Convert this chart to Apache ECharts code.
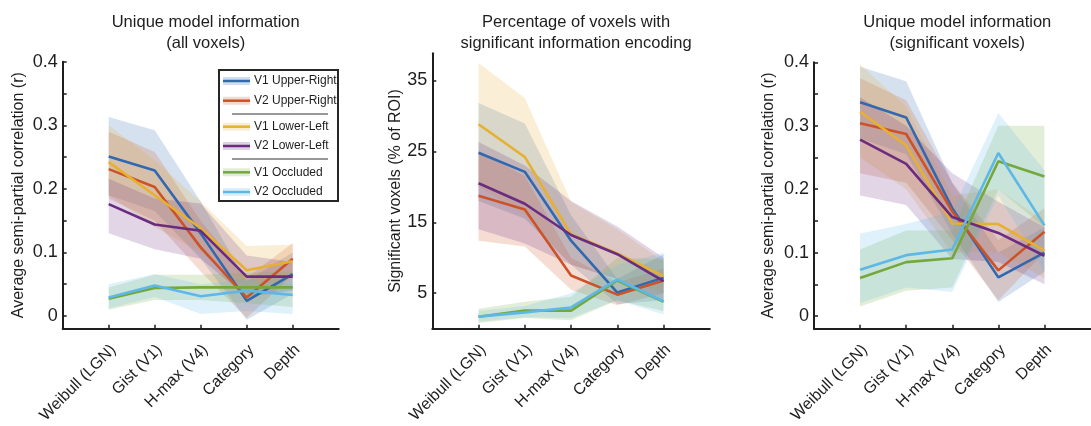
<!DOCTYPE html>
<html>
<head>
<meta charset="utf-8">
<script src="https://cdn.jsdelivr.net/npm/echarts@6/dist/echarts.min.js"></script>
<style>
  html, body { margin: 0; padding: 0; background: #fff; }
  #chart { width: 1091px; height: 426px; }
</style>
</head>
<body>
<div id="chart"></div>
<script>
// Model feature spaces along the x axis
const models = ['Weibull (LGN)', 'Gist (V1)', 'H-max (V4)', 'Category', 'Depth'];
// ROI / visual-field conditions (one line + shaded band each)
const conditions = ['V1 Upper-Right', 'V2 Upper-Right', 'V1 Lower-Left', 'V2 Lower-Left', 'V1 Occluded', 'V2 Occluded'];
const colors = ['#3268b0', '#cc5327', '#e6b030', '#6b2c80', '#75a83a', '#5db8e6'];

// Panel 1: unique model information, all voxels (semi-partial r)
const allMean = [
  [0.251, 0.229, 0.130, 0.024, 0.066],
  [0.231, 0.203, 0.108, 0.029, 0.090],
  [0.242, 0.190, 0.138, 0.072, 0.086],
  [0.176, 0.144, 0.134, 0.062, 0.062],
  [0.027, 0.044, 0.045, 0.045, 0.045],
  [0.029, 0.048, 0.031, 0.040, 0.033]
];
const allLower = [
  [0.190, 0.165, 0.090, -0.006, 0.035],
  [0.185, 0.150, 0.070, -0.003, 0.065],
  [0.190, 0.140, 0.100, 0.040, 0.060],
  [0.130, 0.105, 0.090, 0.030, 0.040],
  [0.010, 0.025, 0.025, 0.020, 0.014],
  [0.012, 0.030, 0.003, 0.008, 0.003]
];
const allUpper = [
  [0.313, 0.292, 0.180, 0.055, 0.100],
  [0.290, 0.258, 0.150, 0.060, 0.115],
  [0.300, 0.245, 0.180, 0.110, 0.112],
  [0.216, 0.185, 0.177, 0.095, 0.085],
  [0.045, 0.065, 0.065, 0.068, 0.070],
  [0.050, 0.066, 0.050, 0.058, 0.050]
];

// Panel 2: percentage of voxels with significant encoding (% of ROI)
const pctMean = [
  [24.8, 22.1, 12.4, 5.1, 7.2],
  [18.75, 16.8, 7.5, 4.8, 6.8],
  [28.8, 24.2, 13.3, 10.6, 7.4],
  [20.5, 17.6, 13.2, 10.5, 6.7],
  [1.7, 2.55, 2.55, 6.8, 3.8],
  [1.7, 2.3, 3.0, 6.95, 3.85]
];
const pctLower = [
  [18.0, 15.5, 9.0, 3.5, 4.0],
  [12.4, 11.6, 5.5, 3.3, 5.0],
  [20.0, 16.0, 9.0, 7.0, 5.0],
  [14.0, 12.0, 9.0, 7.0, 4.0],
  [0.8, 1.5, 1.2, 4.0, 2.5],
  [1.0, 1.6, 1.5, 4.0, 2.0]
];
const pctUpper = [
  [31.8, 28.9, 16.0, 7.0, 10.5],
  [25.0, 21.5, 10.0, 6.5, 8.5],
  [37.45, 32.5, 17.9, 14.0, 9.5],
  [26.3, 23.0, 18.0, 14.4, 10.0],
  [2.8, 3.8, 4.5, 10.0, 9.8],
  [2.5, 3.2, 5.0, 9.0, 10.7]
];

// Panel 3: unique model information, significant voxels only
const sigMean = [
  [0.337, 0.313, 0.170, 0.061, 0.100],
  [0.304, 0.287, 0.165, 0.072, 0.133],
  [0.322, 0.269, 0.146, 0.145, 0.103],
  [0.278, 0.240, 0.156, 0.131, 0.095],
  [0.060, 0.085, 0.091, 0.244, 0.220],
  [0.073, 0.096, 0.105, 0.257, 0.143]
];
const sigLower = [
  [0.280, 0.255, 0.130, 0.022, 0.070],
  [0.225, 0.210, 0.120, 0.025, 0.100],
  [0.250, 0.200, 0.100, 0.100, 0.060],
  [0.190, 0.175, 0.090, 0.085, 0.050],
  [0.015, 0.040, 0.045, 0.200, 0.140],
  [0.020, 0.045, 0.038, 0.190, 0.070]
];
const sigUpper = [
  [0.393, 0.370, 0.210, 0.100, 0.140],
  [0.375, 0.340, 0.210, 0.120, 0.170],
  [0.397, 0.330, 0.190, 0.200, 0.150],
  [0.345, 0.300, 0.225, 0.180, 0.140],
  [0.105, 0.135, 0.135, 0.300, 0.300],
  [0.130, 0.145, 0.165, 0.320, 0.230]
];

// Axis ticks
const corrTicks = [0, 0.1, 0.2, 0.3, 0.4];
const corrMinorTicks = [0, 0.05, 0.1, 0.15, 0.2, 0.25, 0.3, 0.35, 0.4];
const pctTicks = [5, 15, 25, 35];

const titles = [
  'Unique model information\n(all voxels)',
  'Percentage of voxels with\nsignificant information encoding',
  'Unique model information\n(significant voxels)'
];
const yNames = [
  'Average semi-partial correlation (r)',
  'Significant voxels (% of ROI)',
  'Average semi-partial correlation (r)'
];

const FONT = "'Liberation Sans', Arial, Helvetica, sans-serif";
const INK = '#1e1e1e';

function rgba(hex, a) {
  const n = parseInt(hex.slice(1), 16);
  return 'rgba(' + (n >> 16) + ',' + ((n >> 8) & 255) + ',' + (n & 255) + ',' + a + ')';
}

const positions = models.map((_, i) => i + 1);
const labelShift = -0.02;

const grids = [
  { left: 62.7, top: 61.7, width: 276, height: 270 },
  { left: 432.3, top: 53.3, width: 277.5, height: 278.4 },
  { left: 814, top: 62.3, width: 276.5, height: 270 }
];

function xAxisFor(g) {
  return {
    type: 'value', gridIndex: g, min: 0, max: 6,
    splitLine: { show: false },
    axisLine: { onZero: false, lineStyle: { color: INK, width: 2 } },
    axisTick: { inside: true, length: 4, customValues: positions, lineStyle: { color: INK, width: 1.5 } },
    axisLabel: {
      customValues: positions.map(p => p + labelShift),
      formatter: v => models[Math.round(v) - 1] || '',
      rotate: 45, align: 'right', verticalAlign: 'top', margin: 13,
      fontFamily: FONT, fontSize: 16, color: INK
    }
  };
}

function yAxisFor(g, min, max, ticks, minor, gap, fmt) {
  return {
    type: 'value', gridIndex: g, min: min, max: max,
    splitLine: { show: false },
    axisLine: { show: true, onZero: false, lineStyle: { color: INK, width: 2 } },
    axisTick: { show: true, inside: true, length: 4, customValues: minor, lineStyle: { color: INK, width: 1.5 } },
    axisLabel: { customValues: ticks, formatter: fmt, margin: 5, fontFamily: FONT, fontSize: 18, color: INK },
    name: yNames[g], nameLocation: 'middle', nameRotate: 90, nameGap: gap,
    nameTextStyle: { fontFamily: FONT, fontSize: 16, color: INK }
  };
}

const corrFmt = v => (Math.abs(v) < 1e-9 ? '0' : v.toFixed(1));

function bandSeries(g, lo, hi, color) {
  return {
    type: 'custom', xAxisIndex: g, yAxisIndex: g, silent: true, z: 1,
    data: lo.map((v, i) => [positions[i], v, hi[i]]),
    encode: { x: 0, y: [1, 2] },
    renderItem: (params, api) => {
      if (params.dataIndex !== 0) return null;
      const upper = hi.map((v, i) => api.coord([positions[i], v]));
      const lower = lo.map((v, i) => api.coord([positions[i], v])).reverse();
      return { type: 'polygon', shape: { points: upper.concat(lower) }, style: { fill: rgba(color, 0.2) } };
    }
  };
}

function lineSeries(g, vals, color, name) {
  return {
    type: 'line', name: name, xAxisIndex: g, yAxisIndex: g, z: 3,
    data: vals.map((v, i) => [positions[i], v]),
    symbol: 'none', silent: true,
    lineStyle: { color: color, width: 2.6 }
  };
}

const panels = [
  [allMean, allLower, allUpper],
  [pctMean, pctLower, pctUpper],
  [sigMean, sigLower, sigUpper]
];

const series = [];
panels.forEach((p, g) => {
  conditions.forEach((c, k) => series.push(bandSeries(g, p[1][k], p[2][k], colors[k])));
});
panels.forEach((p, g) => {
  conditions.forEach((c, k) => series.push(lineSeries(g, p[0][k], colors[k], c)));
});

// Legend box inside the first panel, with group separators
const legendRows = [81, 100.7, 126.7, 146, 172.3, 192];
const legendSeparators = [114, 159];
const legendEls = [{
  type: 'rect', z: 100,
  shape: { x: 219, y: 70, width: 119, height: 131 },
  style: { fill: '#fff', stroke: '#262626', lineWidth: 2 }
}];
conditions.forEach((c, k) => {
  const y = legendRows[k];
  legendEls.push({ type: 'rect', z: 101, shape: { x: 223, y: y - 4, width: 27, height: 8 }, style: { fill: rgba(colors[k], 0.22) } });
  legendEls.push({ type: 'line', z: 102, shape: { x1: 223, y1: y, x2: 250, y2: y }, style: { stroke: colors[k], lineWidth: 2.5 } });
  legendEls.push({ type: 'text', z: 102, x: 254, y: y, style: { text: c, font: '12px ' + FONT, fill: INK, verticalAlign: 'middle', align: 'left' } });
});
legendSeparators.forEach(y => {
  legendEls.push({ type: 'line', z: 102, shape: { x1: 232, y1: y, x2: 328, y2: y }, style: { stroke: '#333', lineWidth: 1 } });
});

const option = {
  animation: false,
  backgroundColor: '#fff',
  title: grids.map((gr, i) => ({
    text: titles[i],
    left: gr.left + gr.width / 2, top: 7, textAlign: 'center',
    textStyle: { fontFamily: FONT, fontSize: 16.5, fontWeight: 'normal', color: INK, lineHeight: 21 }
  })),
  grid: grids,
  xAxis: [xAxisFor(0), xAxisFor(1), xAxisFor(2)],
  yAxis: [
    yAxisFor(0, -0.02, 0.4, corrTicks, corrMinorTicks, 36, corrFmt),
    yAxisFor(1, 0, 38.8, pctTicks, pctTicks, 28, v => String(v)),
    yAxisFor(2, -0.02, 0.4, corrTicks, corrMinorTicks, 37, corrFmt)
  ],
  series: series,
  graphic: legendEls
};

const chart = echarts.init(document.getElementById('chart'), null, { renderer: 'canvas' });
chart.setOption(option);
</script>
</body>
</html>
